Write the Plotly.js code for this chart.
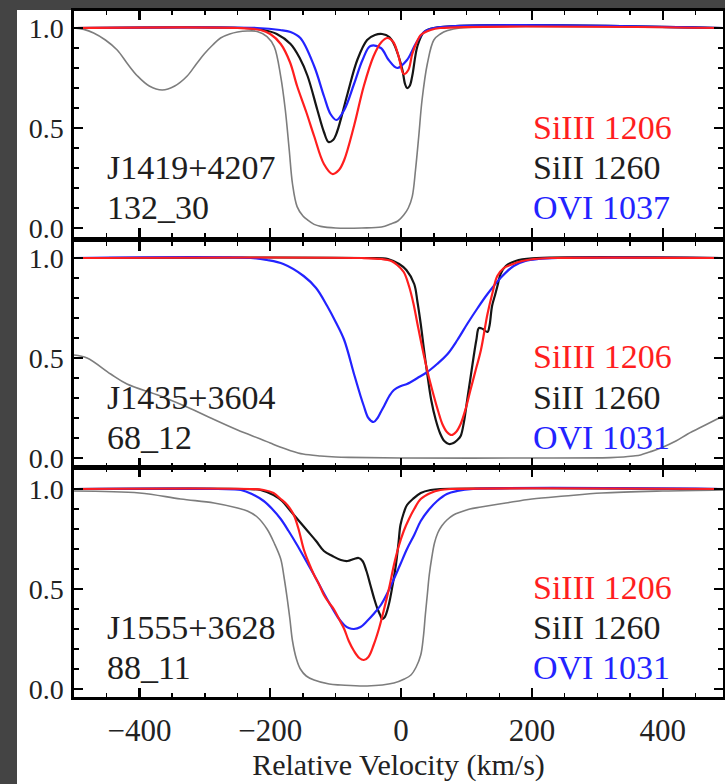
<!DOCTYPE html>
<html>
<head>
<meta charset="utf-8">
<script src="https://cdn.plot.ly/plotly-3.0.1.min.js"></script>
<style>
html,body{margin:0;padding:0;background:#444;}
#chart{width:725px;height:784px;}
</style>
</head>
<body>
<div id="chart"></div>
<script>
// ---------- data (velocity in km/s, normalized flux) ----------
const sightlines = ["J1419+4207", "J1435+3604", "J1555+3628"];
const galaxyIds = ["132_30", "68_12", "88_11"];
const siiiiLabel = "SiIII 1206";
const siiLabel = "SiII 1260";
const oviLabels = ["OVI 1037", "OVI 1031", "OVI 1031"];

// Panel 1 : J1419+4207
const p1_gray_v = [-500,-485,-470,-452,-434,-418,-403,-385,-365,-346,-327,-313,-301,-288,-276,-262,-250,-235,-220,-205,-194,-184,-177,-171,-166,-159,-150,-143,-133,-123,-100,-60,-30,-16,-5,4,11,17,22,27,32,40,50,60,71,90,492];
const p1_gray_f = [1.0,0.993,0.975,0.94,0.89,0.82,0.76,0.71,0.69,0.71,0.76,0.82,0.87,0.915,0.95,0.97,0.98,0.985,0.983,0.957,0.907,0.757,0.59,0.39,0.22,0.107,0.06,0.04,0.018,0.008,0.0,0.0,0.005,0.02,0.035,0.065,0.1,0.157,0.29,0.46,0.64,0.82,0.94,0.97,0.987,1.0,1.0];
const p1_black_v = [-500,-240,-210,-190,-169,-155,-143,-128,-118,-111,-104,-98,-82,-67,-52,-40,-29,-18,-11,-4,2,6,9,13,17,25,35,50,492];
const p1_black_f = [1,1,0.99,0.97,0.92,0.85,0.76,0.59,0.48,0.43,0.44,0.48,0.67,0.84,0.94,0.965,0.97,0.955,0.92,0.86,0.79,0.72,0.70,0.71,0.76,0.91,0.98,1,1];
const p1_blue_v = [-500,-220,-185,-169,-154,-133,-118,-108,-99,-87,-72,-59,-47,-31,-19,-6,9,22,35,50,492];
const p1_blue_f = [1,1,0.99,0.98,0.95,0.81,0.66,0.57,0.54,0.59,0.72,0.84,0.91,0.90,0.84,0.80,0.84,0.92,0.98,1,1];
const p1_red_v = [-500,-250,-215,-200,-184,-170,-159,-145,-133,-118,-105,-95,-87,-72,-57,-42,-30,-21,-12,-4,4,11,17,24,30,45,60,492];
const p1_red_f = [1,1,0.99,0.97,0.92,0.83,0.71,0.58,0.46,0.32,0.27,0.29,0.34,0.51,0.71,0.86,0.93,0.95,0.93,0.86,0.77,0.79,0.87,0.93,0.965,0.99,1,1];

// Panel 2 : J1435+3604
const p2_gray_v = [-500,-480,-444,-419,-368,-317,-291,-250,-215,-200,-185,-170,-150,-123,-100,-80,0,200,320,340,355,366,380,397,420,438,465,492];
const p2_gray_f = [0.515,0.5,0.42,0.37,0.31,0.24,0.2,0.14,0.095,0.075,0.055,0.038,0.02,0.01,0.005,0.003,0.0,0.0,0.002,0.005,0.01,0.015,0.03,0.05,0.085,0.12,0.165,0.21];
const p2_black_v = [-500,-50,-20,-3,8,20,25,30,35,40,46,53,60,66,73,80,86,91,96,101,106,111,115,119,125,132,135,139,144,148,152,160,175,200,492];
const p2_black_f = [1,1,0.995,0.97,0.94,0.87,0.78,0.67,0.54,0.42,0.29,0.19,0.12,0.085,0.07,0.075,0.09,0.11,0.18,0.29,0.40,0.51,0.59,0.65,0.645,0.63,0.66,0.76,0.82,0.87,0.92,0.96,0.985,0.998,1];
const p2_blue_v = [-500,-230,-205,-180,-149,-130,-113,-100,-87,-72,-62,-57,-50,-42,-36,-31,-26,-18,-11,0,9,25,40,55,71,86,101,117,132,152,172,190,210,240,492];
const p2_blue_f = [1,1,0.99,0.97,0.91,0.85,0.76,0.68,0.59,0.42,0.31,0.26,0.2,0.18,0.2,0.23,0.26,0.31,0.34,0.36,0.37,0.40,0.43,0.47,0.52,0.59,0.67,0.75,0.82,0.90,0.96,0.985,0.995,1,1];
const p2_red_v = [-500,-60,-30,-15,-6,4,12,19,25,35,42,50,57,63,70,77,84,91,99,106,114,122,132,140,147,157,167,185,203,230,492];
const p2_red_f = [1,1,0.995,0.985,0.965,0.93,0.86,0.77,0.67,0.51,0.41,0.31,0.23,0.17,0.13,0.115,0.13,0.17,0.25,0.34,0.44,0.54,0.72,0.83,0.91,0.95,0.965,0.985,0.995,1,1];

// Panel 3 : J1555+3628
const p3_gray_v = [-500,-400,-337,-286,-250,-235,-220,-205,-194,-184,-179,-174,-170,-166,-160,-154,-145,-133,-110,-92,-52,-11,5,15,23,30,34,37,40,43,47,51,56,62,70,80,91,105,122,160,200,250,307,400,492];
const p3_gray_f = [0.99,0.98,0.95,0.93,0.905,0.89,0.86,0.80,0.73,0.65,0.56,0.45,0.35,0.24,0.15,0.10,0.065,0.045,0.025,0.02,0.015,0.03,0.05,0.07,0.11,0.17,0.26,0.37,0.47,0.57,0.66,0.73,0.78,0.815,0.845,0.87,0.885,0.9,0.91,0.93,0.95,0.965,0.98,0.99,0.995];
const p3_black_v = [-500,-240,-215,-195,-182,-169,-156,-143,-130,-118,-105,-92,-82,-72,-65,-59,-53,-47,-41,-36,-32,-29,-25,-19,-13,-8,-4,-1,4,9,18,30,45,60,492];
const p3_black_f = [1,1,0.995,0.97,0.94,0.89,0.84,0.79,0.74,0.69,0.665,0.645,0.64,0.65,0.655,0.64,0.59,0.52,0.45,0.40,0.37,0.35,0.36,0.42,0.52,0.62,0.73,0.82,0.88,0.92,0.95,0.98,0.995,1,1];
const p3_blue_v = [-500,-280,-245,-228,-210,-197,-184,-172,-159,-146,-133,-120,-108,-97,-87,-80,-72,-62,-52,-42,-31,-21,-11,-1,9,20,30,42,55,70,86,110,492];
const p3_blue_f = [1,1,0.995,0.975,0.94,0.90,0.85,0.79,0.72,0.645,0.57,0.49,0.42,0.36,0.32,0.305,0.30,0.31,0.34,0.375,0.42,0.48,0.55,0.625,0.70,0.77,0.84,0.895,0.94,0.975,0.99,1,1];
const p3_red_v = [-500,-230,-210,-195,-184,-174,-164,-156,-149,-141,-133,-125,-118,-110,-103,-95,-87,-80,-72,-64,-57,-50,-42,-34,-26,-18,-11,-4,4,12,20,30,45,60,75,492];
const p3_red_f = [1,1,0.995,0.98,0.95,0.92,0.87,0.79,0.70,0.63,0.57,0.52,0.47,0.43,0.40,0.35,0.30,0.24,0.19,0.155,0.145,0.16,0.22,0.30,0.40,0.51,0.62,0.71,0.79,0.85,0.90,0.95,0.98,0.995,1,1];

// ---------- styles ----------
const C_GRAY = '#7d7d7d', C_BLACK = '#151515', C_BLUE = '#2323ff', C_RED = '#ff1e1e';
const FONT = 'Liberation Serif';

const panels = [
  {gv:p1_gray_v, gf:p1_gray_f, kv:p1_black_v, kf:p1_black_f, bv:p1_blue_v, bf:p1_blue_f, rv:p1_red_v, rf:p1_red_f},
  {gv:p2_gray_v, gf:p2_gray_f, kv:p2_black_v, kf:p2_black_f, bv:p2_blue_v, bf:p2_blue_f, rv:p2_red_v, rf:p2_red_f},
  {gv:p3_gray_v, gf:p3_gray_f, kv:p3_black_v, kf:p3_black_f, bv:p3_blue_v, bf:p3_blue_f, rv:p3_red_v, rf:p3_red_f}
];

const traces = [];
panels.forEach((p, i) => {
  const xa = i === 0 ? 'x' : 'x' + (i + 1);
  const ya = i === 0 ? 'y' : 'y' + (i + 1);
  const mk = (v, f, color, w, name) => ({
    x: v, y: f, xaxis: xa, yaxis: ya, type: 'scatter', mode: 'lines', name: name,
    line: {color: color, width: w, shape: 'spline', smoothing: 1},
    hoverinfo: 'skip'
  });
  traces.push(mk(p.gv, p.gf, C_GRAY, 1.6, 'model'));
  traces.push(mk(p.kv, p.kf, C_BLACK, 2.2, siiLabel));
  traces.push(mk(p.bv, p.bf, C_BLUE, 2.2, oviLabels[i]));
  traces.push(mk(p.rv, p.rf, C_RED, 2.2, siiiiLabel));
});

// ---------- layout ----------
const L = 74, R = 2, T = 11, B = 87, W = 725, H = 784;
const PH = H - T - B, PW = W - L - R;
const py = px => (H - B - px) / PH;   // pixel row -> paper y
const pxx = px => (px - L) / PW;       // pixel col -> paper x

const xBase = {
  range: [-500, 492], showline: true, linecolor: '#000', linewidth: 2.6,
  mirror: 'ticks', ticks: 'inside', ticklen: 9, tickwidth: 2.4, tickcolor: '#000',
  tick0: 0, dtick: 200, showgrid: false, zeroline: false,
  minor: {ticks: 'inside', ticklen: 4, tickwidth: 1.5, tickcolor: '#000', dtick: 50, showgrid: false},
  showticklabels: false, fixedrange: true
};
const yBase = {
  showline: true, linecolor: '#000', linewidth: 2.6,
  mirror: 'ticks', ticks: 'inside', ticklen: 9, tickwidth: 2.4, tickcolor: '#000',
  tick0: 0, dtick: 0.5, tickformat: '.1f', showgrid: false, zeroline: false,
  minor: {ticks: 'inside', ticklen: 5, tickwidth: 2, tickcolor: '#000', dtick: 0.1, showgrid: false},
  tickfont: {family: FONT, size: 28, color: '#222'}, ticklabelstandoff: 2, fixedrange: true
};

const layout = {
  width: W, height: H,
  margin: {l: L, r: R, t: T, b: B},
  paper_bgcolor: '#444444', plot_bgcolor: '#ffffff',
  showlegend: false,
  font: {family: FONT, color: '#222'},
  xaxis: Object.assign({}, xBase, {anchor: 'y'}),
  xaxis2: Object.assign({}, xBase, {anchor: 'y2', matches: 'x'}),
  xaxis3: Object.assign({}, xBase, {anchor: 'y3', matches: 'x', showticklabels: true,
    tickfont: {family: FONT, size: 31, color: '#222'}, ticklabelstandoff: 4,
    title: {text: 'Relative Velocity (km/s)', font: {family: FONT, size: 30, color: '#222'}, standoff: 0}}),
  yaxis: Object.assign({}, yBase, {anchor: 'x', domain: [py(237), 1], range: [-0.045, 1.085]}),
  yaxis2: Object.assign({}, yBase, {anchor: 'x2', domain: [py(467), py(242)], range: [-0.045, 1.08]}),
  yaxis3: Object.assign({}, yBase, {anchor: 'x3', domain: [0, py(468)], range: [-0.04, 1.105]}),
  shapes: [{
    type: 'rect', xref: 'paper', yref: 'paper', layer: 'below',
    x0: pxx(17), x1: 1.05, y0: py(800), y1: py(10),
    fillcolor: '#ffffff', line: {width: 0}
  }],
  annotations: []
};

const rightRows = [[128, 168, 207], [357, 397, 437], [587, 627, 667]];
const leftRows = [[168, 207], [397, 437], [627, 667]];
for (let i = 0; i < 3; i++) {
  const rows = rightRows[i];
  const items = [[siiiiLabel, C_RED], [siiLabel, '#1e1e1e'], [oviLabels[i], C_BLUE]];
  items.forEach((it, k) => {
    layout.annotations.push({text: it[0], xref: 'paper', yref: 'paper', x: pxx(531), y: py(rows[k]),
      xanchor: 'left', yanchor: 'middle', showarrow: false, font: {family: FONT, size: 34, color: it[1]}});
  });
  layout.annotations.push({text: sightlines[i], xref: 'paper', yref: 'paper', x: pxx(105), y: py(leftRows[i][0]),
    xanchor: 'left', yanchor: 'middle', showarrow: false, font: {family: FONT, size: 34, color: '#1e1e1e'}});
  layout.annotations.push({text: galaxyIds[i], xref: 'paper', yref: 'paper', x: pxx(105), y: py(leftRows[i][1]),
    xanchor: 'left', yanchor: 'middle', showarrow: false, font: {family: FONT, size: 34, color: '#1e1e1e'}});
}

Plotly.newPlot('chart', traces, layout, {displayModeBar: false, staticPlot: true});
</script>
</body>
</html>
